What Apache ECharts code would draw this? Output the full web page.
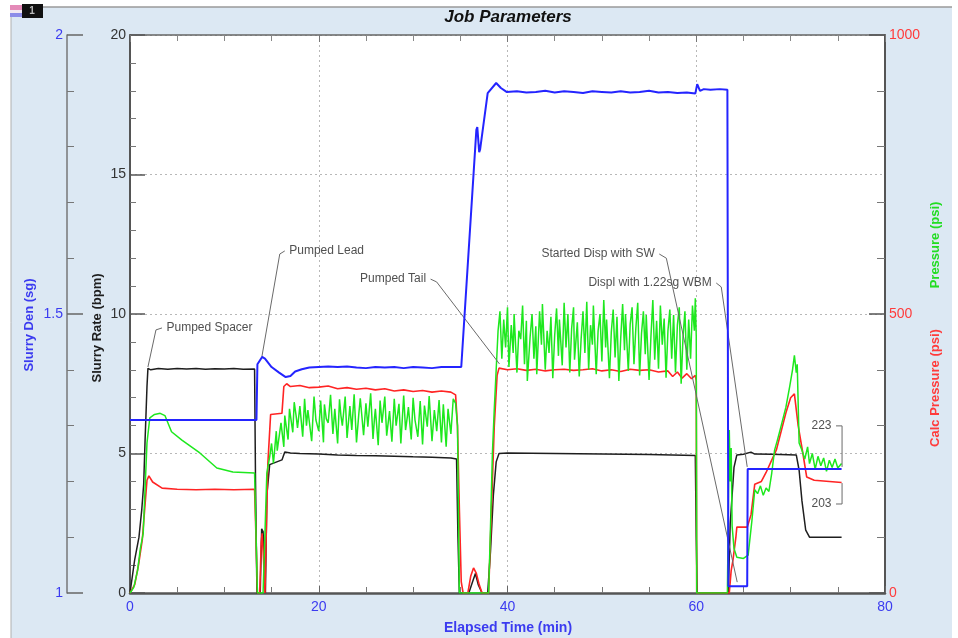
<!DOCTYPE html>
<html>
<head>
<meta charset="utf-8">
<script src="https://cdn.jsdelivr.net/npm/echarts@6/dist/echarts.min.js"></script>
<style>html,body{margin:0;padding:0;background:#fff;}#c{width:958px;height:638px;}</style>
</head>
<body>
<div id="c"></div>
<script>
// ---- Axis ticks ----
const timeTicks = [0, 20, 40, 60, 80];
const rateTicks = [0, 5, 10, 15, 20];
const densityTicks = [1, 1.5, 2];
const pressureTicks = [0, 500, 1000];

// ---- Series: [elapsed time (min), value] ----
const slurryDensity = [
  [0,1.31],[13.4,1.31],[13.5,1.41],[14.0,1.423],[14.3,1.42],[15.0,1.405],[15.8,1.395],[16.5,1.387],[17.0,1.389],
  [17.5,1.397],[18.2,1.401],[19,1.404],[20,1.405],[21,1.406],[22,1.405],[23,1.406],[24,1.404],[25,1.403],
  [26,1.405],[27,1.404],[28,1.405],[29,1.403],[30,1.405],[31,1.404],[32,1.403],[33,1.405],[34,1.405],[35.1,1.405],
  [36.7,1.83],[36.8,1.835],[37.0,1.79],[37.1,1.795],[37.9,1.896],[38.8,1.914],[39.3,1.905],[39.9,1.898],
  [41,1.899],[42,1.897],[43,1.898],[44,1.900],[45,1.897],[46,1.899],[47,1.898],[48,1.896],[49,1.899],[50,1.898],
  [51,1.897],[52,1.899],[53,1.897],[54,1.898],[55,1.900],[56,1.897],[57,1.898],[58,1.896],[59,1.897],[59.9,1.895],
  [60.1,1.912],[60.4,1.900],[60.8,1.903],[61.5,1.902],[62.5,1.903],[63.3,1.902],[63.4,1.012],[65.4,1.012],
  [65.45,1.222],[75.4,1.222]
];

const slurryRate = [
  [0,0],[0.5,1.2],[0.95,2.0],[1.25,3.0],[1.45,3.9],[1.6,5.5],[1.8,7.4],[1.9,8.05],[2.2,8.0],[3,8.05],[4,8.02],
  [5,8.05],[6,8.03],[7,8.05],[8,8.02],[9,8.04],[10,8.03],[11,8.05],[12,8.02],[13.2,8.03],[13.3,4],[13.45,0],
  [13.8,0],[13.95,2.3],[14.1,2.2],[14.25,1.0],[14.35,0],[14.5,3.5],[14.8,4.6],[16.1,4.77],[16.4,5.05],[17,5.02],
  [18,5.0],[20,4.98],[22,4.95],[24,4.93],[26,4.92],[28,4.9],[30,4.88],[32,4.87],[34,4.84],[34.6,4.8],[34.75,2],
  [34.9,0],[35.9,0],[36.3,0.4],[36.6,0.7],[36.9,0.3],[37.3,0],[37.9,0],[38.2,1.5],[38.5,3.5],[38.8,4.7],[39.1,5.0],
  [40,5.02],[45,5.0],[50,4.98],[55,4.96],[59.9,4.93],[60.0,2],[60.1,0],[63.4,0],[63.6,2.5],[64.0,4.5],[64.3,4.95],
  [65,4.97],[65.8,5.05],[66.2,4.98],[68,4.97],[70.6,4.95],[70.9,4.4],[71.2,3.3],[71.6,2.25],[72,2.0],[75.4,2.0]
];

const calcPressure = [
  [0,0],[0.5,15],[0.9,50],[1.3,95],[1.8,202],[2.0,210],[2.4,199],[3.4,188],[5,186],[7,185],[9,186],[11,185],
  [13.2,186],[13.35,100],[13.5,0],[13.75,0],[13.9,90],[14.0,107],[14.15,60],[14.3,0],[14.4,0],[14.6,230],
  [14.9,320],[16.1,322],[16.3,370],[16.6,375],[17,370],[18,372],[19,368],[20,369],[21,371],[22,366],[23,368],
  [24,365],[25,367],[26,364],[27,366],[28,362],[29,364],[30,361],[31,363],[32,360],[33,362],[34,360],[34.5,355],
  [34.7,300],[34.9,150],[35.1,20],[35.3,0],[35.8,0],[36.1,30],[36.4,45],[36.7,35],[37.0,15],[37.3,0],[38.0,0],
  [38.3,150],[38.6,300],[38.9,390],[39.1,403],[40,400],[41,402],[42,399],[43,401],[44,398],[45,400],[46,401],
  [47,399],[48,400],[49,402],[50,398],[51,400],[52,397],[53,401],[54,399],[55,400],[56,396],[57,398],[57.5,388],
  [58,396],[58.5,385],[59,393],[59.5,384],[59.9,390],[60.0,380],[60.05,0],[63.5,0],[63.7,40],[63.9,60],[64.2,100],
  [64.3,118],[65.4,118],[65.8,140],[66.2,195],[66.9,200],[67.4,216],[68.5,257],[69.5,323],[70.0,350],[70.4,357],
  [70.8,300],[71.3,250],[71.7,208],[72.5,202],[75.4,198]
];

const pressure = [
  [0,0],[0.4,10],[0.8,40],[1.1,80],[1.4,107],[1.8,269],[2.1,314],[2.6,320],[3.2,322],[3.7,318],[3.9,315],
  [4.4,289],[5.5,274],[7.4,251],[9.2,224],[10.9,217],[13.2,215],[13.5,0],[14.1,0],[14.5,215],[14.8,244],
  [15.0,268],[15.2,232],[15.5,290],[15.6,255],[16.0,305],[16.3,262],[16.4,318],[16.75,275],[16.9,330],
  [17.25,288],[17.4,342],[17.6,318],[17.75,296],[18.0,335],[18.3,280],[18.5,348],[18.7,300],[18.85,328],[19.0,325],[19.25,272],
  [19.5,352],[19.7,310],[20.0,290],[20.2,345],[20.5,270],[20.6,338],[20.8,312],[21.0,305],[21.25,355],[21.5,285],
  [21.7,330],[22.0,268],[22.2,347],[22.35,318],[22.5,300],[22.8,352],[23.0,278],[23.3,335],[23.5,292],[23.75,356],
  [24.0,270],[24.25,322],[24.4,349],[24.75,283],[25.0,340],[25.2,298],[25.5,358],[25.75,276],[25.9,312],[26.0,330],
  [26.3,265],[26.5,345],[26.7,305],[27.0,352],[27.2,282],[27.5,326],[27.75,271],[28.0,348],[28.2,300],
  [28.5,339],[28.7,268],[29.0,354],[29.2,292],[29.4,318],[29.5,333],[29.8,275],[30.0,350],[30.2,310],[30.5,280],
  [30.75,344],[31.0,266],[31.2,336],[31.5,298],[31.7,353],[32.0,272],[32.25,328],[32.4,306],[32.5,290],[32.75,346],
  [33.0,270],[33.2,338],[33.5,262],[33.7,330],[34.0,285],[34.25,348],[34.5,340],[34.7,300],[34.8,150],
  [34.9,0],[38.0,0],[38.2,120],[38.4,250],[38.6,330],[38.8,400],[39.0,470],[39.2,505],[39.4,420],[39.6,490],
  [39.8,440],[40.0,512],[40.15,405],[40.4,480],[40.6,430],[40.7,500],[41.0,395],[41.2,470],[41.4,455],[41.6,515],
  [41.8,410],[42.0,488],[42.1,380],[42.4,460],[42.6,500],[42.8,420],[43.0,478],[43.1,392],[43.4,505],[43.6,445],
  [43.7,518],[44.0,400],[44.2,470],[44.4,430],[44.6,495],[44.8,385],[45.0,462],[45.2,510],[45.4,425],[45.5,490],
  [45.8,408],[46.0,520],[46.2,440],[46.4,500],[46.6,395],[46.8,475],[47.0,512],[47.1,418],[47.4,485],[47.6,388],
  [47.8,455],[48.0,505],[48.2,430],[48.4,522],[48.6,400],[48.8,480],[49.0,445],[49.1,515],[49.4,392],[49.6,470],
  [49.8,500],[50.0,415],[50.2,525],[50.4,440],[50.5,490],[50.8,385],[51.0,468],[51.2,508],[51.4,422],[51.6,495],
  [51.8,380],[52.0,458],[52.2,518],[52.4,435],[52.5,500],[52.8,398],[53.0,482],[53.2,512],[53.4,410],[53.6,475],
  [53.8,520],[54.0,390],[54.2,465],[54.4,505],[54.6,428],[54.7,498],[55.0,382],[55.2,460],[55.4,525],[55.6,418],
  [55.8,488],[56.0,402],[56.2,515],[56.4,445],[56.6,492],[56.8,386],[57.0,470],[57.2,508],[57.4,420],[57.6,498],
  [57.8,395],[58.0,480],[58.2,512],[58.4,375],[58.6,460],[58.8,505],[59.0,400],[59.2,490],[59.4,420],[59.6,515],
  [59.8,470],[59.9,528],[60.0,460],[60.05,0],[63.3,0],[63.4,150],[63.5,292],[63.6,200],[63.7,260],[63.8,120],
  [64.0,80],[64.3,64],[65.0,62],[65.5,68],[65.9,130],[66.2,185],[66.5,178],[66.8,192],[67.1,175],[67.4,188],
  [67.7,182],[68.0,215],[68.3,256],[68.6,274],[69.0,300],[69.5,333],[69.9,370],[70.2,400],[70.4,426],[70.6,395],
  [70.7,410],[70.9,269],[71.2,256],[71.5,240],[71.8,262],[72.0,232],[72.3,250],[72.6,222],[72.9,245],[73.2,228],
  [73.5,242],[73.8,218],[74.1,238],[74.4,225],[74.7,240],[75.0,224],[75.4,232]
];

// ---- Annotations (in time / slurry-rate coordinates) ----
const annotationTexts = ['Pumped Spacer','Pumped Lead','Pumped Tail','Started Disp with SW','Displ with 1.22sg WBM','223','203'];
const annotationSides = ['right','right','left','left','left','left','left'];
const annotationPaths = [
  [[3.39,9.50],[2.75,9.43],[1.90,8.10]],
  [[16.40,12.26],[15.87,12.15],[13.97,8.46]],
  [[31.85,11.25],[32.49,11.15],[39.15,8.21]],
  [[56.08,12.15],[56.83,12.00],[64.34,0.39]],
  [[62.12,11.11],[62.65,10.97],[65.40,4.52]],
  [[74.81,5.99],[75.45,5.99],[75.45,4.52]],
  [[74.81,3.19],[75.45,3.19],[75.45,3.94]]
];

const FONT = 'Liberation Sans, Arial, sans-serif';
const chart = echarts.init(document.getElementById('c'), null, {renderer:'canvas'});

function rng(t){ return {min:t[0], max:t[t.length-1], interval:t[1]-t[0]}; }
const xr = rng(timeTicks), rr = rng(rateTicks), dr = rng(densityTicks), pr = rng(pressureTicks);
const plain = v => String(v);

const annSeries = annotationPaths.map((p,i)=>({
  type:'line', xAxisIndex:0, yAxisIndex:0, silent:true, animation:false,
  symbol:'circle', symbolSize:1, showSymbol:true,
  itemStyle:{color:'rgba(0,0,0,0)'},
  lineStyle:{color:'#6a6a6a', width:1},
  label:{show:false},
  z:5,
  data:p.map((pt,j)=> j===0 ? {value:pt, label:{show:true, position:annotationSides[i], distance:4,
        formatter:annotationTexts[i], color:'#505050', fontSize:12, fontFamily:FONT}} : {value:pt})
}));

const option = {
  backgroundColor:'#dce8f3',
  animation:false,
  grid:{left:130, right:73, top:35, bottom:45, show:true, backgroundColor:'#ffffff', borderWidth:0, containLabel:false, outerBoundsMode:'none'},
  xAxis:[
    {type:'value', position:'bottom', min:xr.min, max:xr.max, interval:xr.interval,
     axisLine:{show:true, onZero:false, lineStyle:{color:'#555', width:2.5}},
     axisTick:{show:true, inside:true, length:7, lineStyle:{color:'#666', width:1}},
     minorTick:{show:true, splitNumber:4, length:6, lineStyle:{color:'#777', width:1}},
     axisLabel:{color:'#3b3bf0', fontSize:14, fontFamily:FONT, margin:7, formatter:plain},
     splitLine:{show:true, lineStyle:{color:'#b8b8b8', type:[2,3], width:1}},
     minorSplitLine:{show:false}},
    {type:'value', position:'top', min:xr.min, max:xr.max, interval:xr.interval,
     axisLine:{show:true, onZero:false, lineStyle:{color:'#666', width:1.5}},
     axisTick:{show:true, inside:true, length:7, lineStyle:{color:'#777'}},
     minorTick:{show:true, splitNumber:4, length:6, lineStyle:{color:'#888'}},
     axisLabel:{show:false}, splitLine:{show:false}}
  ],
  yAxis:[
    {type:'value', position:'left', min:rr.min, max:rr.max, interval:rr.interval,
     axisLine:{show:true, onZero:false, lineStyle:{color:'#555', width:2}},
     axisTick:{show:true, inside:true, length:15, lineStyle:{color:'#555', width:1.5}},
     minorTick:{show:true, splitNumber:5, length:6, lineStyle:{color:'#777', width:1}},
     axisLabel:{color:'#333', fontSize:14, fontFamily:FONT, margin:4, formatter:plain},
     splitLine:{show:true, lineStyle:{color:'#b8b8b8', type:[2,3], width:1}}},
    {type:'value', position:'left', offset:63, min:dr.min, max:dr.max, interval:dr.interval,
     axisLine:{show:true, onZero:false, lineStyle:{color:'#777', width:1.5}},
     axisTick:{show:true, inside:true, length:16, lineStyle:{color:'#666', width:1.5}},
     minorTick:{show:true, splitNumber:5, length:7, lineStyle:{color:'#777', width:1}},
     axisLabel:{color:'#3b3bf0', fontSize:14, fontFamily:FONT, margin:4, formatter:plain},
     splitLine:{show:false}},
    {type:'value', position:'right', min:pr.min, max:pr.max, interval:pr.interval,
     axisLine:{show:true, onZero:false, lineStyle:{color:'#555', width:2}},
     axisTick:{show:true, inside:true, length:16, lineStyle:{color:'#555', width:1.5}},
     minorTick:{show:true, splitNumber:5, length:8, lineStyle:{color:'#777', width:1}},
     axisLabel:{color:'#ff3b3b', fontSize:14, fontFamily:FONT, margin:4, formatter:plain},
     splitLine:{show:false}}
  ],
  series:[
    {name:'Slurry Rate', type:'line', xAxisIndex:0, yAxisIndex:0, data:slurryRate, showSymbol:false, silent:true,
     lineStyle:{color:'#1e1e1e', width:1.5}, itemStyle:{color:'#1e1e1e'}, z:2},
    {name:'Calc Pressure', type:'line', xAxisIndex:0, yAxisIndex:2, data:calcPressure, showSymbol:false, silent:true,
     lineStyle:{color:'#ff2424', width:1.6}, itemStyle:{color:'#ff2424'}, z:3},
    {name:'Pressure', type:'line', xAxisIndex:0, yAxisIndex:2, data:pressure, showSymbol:false, silent:true,
     lineStyle:{color:'#1ee81e', width:1.5}, itemStyle:{color:'#1ee81e'}, z:4},
    {name:'Slurry Den', type:'line', xAxisIndex:0, yAxisIndex:1, data:slurryDensity, showSymbol:false, silent:true,
     lineStyle:{color:'#2424ff', width:2}, itemStyle:{color:'#2424ff'}, z:6}
  ].concat(annSeries),
  graphic:[
    {type:'rect', shape:{x:0,y:0,width:958,height:7}, style:{fill:'#ffffff'}, silent:true},
    {type:'rect', shape:{x:0,y:0,width:11,height:638}, style:{fill:'#ffffff'}, silent:true},
    {type:'rect', shape:{x:952,y:0,width:6,height:638}, style:{fill:'#ffffff'}, silent:true},
    {type:'line', shape:{x1:11,y1:7,x2:952,y2:7}, style:{stroke:'#9a9a9a', lineWidth:1.5}, silent:true},
    {type:'line', shape:{x1:11,y1:7,x2:11,y2:638}, style:{stroke:'#b0b0b0', lineWidth:1}, silent:true},
    {type:'rect', shape:{x:10,y:5,width:12,height:5}, style:{fill:'#e48ab8'}, silent:true},
    {type:'rect', shape:{x:10,y:10,width:12,height:3}, style:{fill:'#f2e8f2'}, silent:true},
    {type:'rect', shape:{x:10,y:13,width:12,height:4}, style:{fill:'#8c8ce8'}, silent:true},
    {type:'rect', shape:{x:22,y:4,width:21,height:14}, style:{fill:'#111111'}, silent:true},
    {type:'text', x:32, y:11, style:{text:'1', fill:'#bbbbbb', font:'bold 10px '+FONT, align:'center', verticalAlign:'middle'}, silent:true},
    {type:'text', x:508, y:17, style:{text:'Job Parameters', fill:'#111', font:'italic bold 17px '+FONT, align:'center', verticalAlign:'middle'}, silent:true},
    {type:'text', x:508, y:628, style:{text:'Elapsed Time (min)', fill:'#3b3bf0', font:'bold 14px '+FONT, align:'center', verticalAlign:'middle'}, silent:true},
    {type:'text', x:29, y:325, rotation:Math.PI/2, style:{text:'Slurry Den (sg)', fill:'#3b3bf0', font:'bold 13px '+FONT, align:'center', verticalAlign:'middle'}, silent:true},
    {type:'text', x:97, y:328, rotation:Math.PI/2, style:{text:'Slurry Rate (bpm)', fill:'#1e1e1e', font:'bold 13px '+FONT, align:'center', verticalAlign:'middle'}, silent:true},
    {type:'text', x:935, y:388, rotation:Math.PI/2, style:{text:'Calc Pressure (psi)', fill:'#ff3b3b', font:'bold 13px '+FONT, align:'center', verticalAlign:'middle'}, silent:true},
    {type:'text', x:935, y:245, rotation:Math.PI/2, style:{text:'Pressure (psi)', fill:'#22dd22', font:'bold 13px '+FONT, align:'center', verticalAlign:'middle'}, silent:true}
  ]
};
chart.setOption(option);
</script>
</body>
</html>
